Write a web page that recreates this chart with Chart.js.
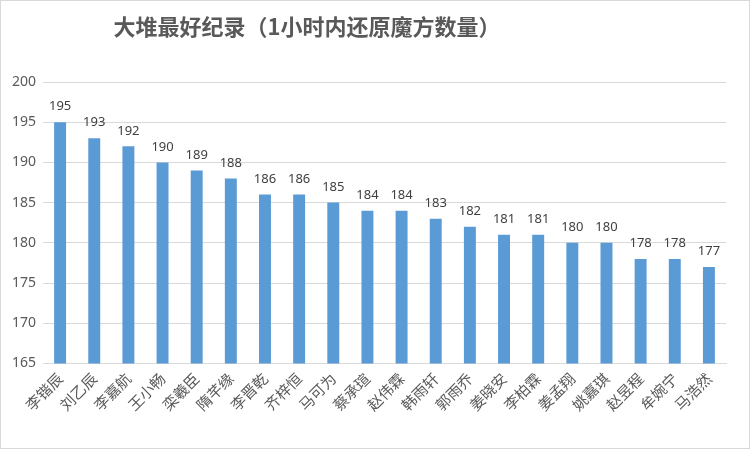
<!DOCTYPE html>
<html>
<head>
<meta charset="utf-8"/>
<script src="https://cdn.jsdelivr.net/npm/chart.js"></script>
<style>
  html, body { margin: 0; padding: 0; background: #fff; }
  #box { position: relative; width: 748px; height: 447px; border: 1px solid #d9d9d9; }
  #title { position: absolute; left: 0; width: 612px; top: 8px; text-align: center;
           font: bold 22px "Noto Sans CJK SC", sans-serif; color: #595959; }
</style>
</head>
<body>
<div id="box">
  <div id="title">大堆最好纪录（1小时内还原魔方数量）</div>
  <canvas id="myChart" width="748" height="447"></canvas>
</div>
<script>
// names and records
const names = ["李锴辰", "刘乙辰", "李嘉航", "王小畅", "栾羲臣", "隋芊缘", "李晋乾", "齐梓恒", "马可为", "蔡承瑄",
               "赵伟霖", "韩雨轩", "郭雨乔", "姜晓安", "李柏霖", "姜孟翔", "姚嘉琪", "赵昱程", "牟婉宁", "马浩然"];
const records = [195, 193, 192, 190, 189, 188, 186, 186, 185, 184, 184, 183, 182, 181, 181, 180, 180, 178, 178, 177];
const yMin = 165, yMax = 200, yStep = 5;

// values on top of bars
const valueLabels = {
  id: "valueLabels",
  afterDatasetsDraw(chart) {
    const ctx = chart.ctx;
    const meta = chart.getDatasetMeta(0);
    ctx.save();
    ctx.font = '13px "Noto Sans", sans-serif';
    ctx.fillStyle = "#404040";
    ctx.textAlign = "center";
    ctx.textBaseline = "bottom";
    meta.data.forEach((bar, i) => {
      ctx.fillText(records[i], bar.x, bar.y - 9);
    });
    ctx.restore();
  }
};

const ctx = document.getElementById('myChart').getContext('2d');
new Chart(ctx, {
  type: "bar",
  data: {
    labels: names,
    datasets: [{
      data: records,
      backgroundColor: "#5b9bd5",
      barPercentage: 0.7,
      categoryPercentage: 0.5
    }]
  },
  options: {
    responsive: false,
    animation: false,
    layout: { padding: { top: 81, right: 23, bottom: 28, left: 4 } },
    plugins: { legend: { display: false }, tooltip: { enabled: false } },
    scales: {
      x: {
        grid: { display: false, drawTicks: false },
        border: { color: "#d9d9d9" },
        ticks: {
          minRotation: 45, maxRotation: 45, padding: 6,
          color: "#595959",
          font: { size: 15, family: '"Noto Sans CJK SC", sans-serif' }
        }
      },
      y: {
        min: yMin, max: yMax,
        grid: { color: "#d9d9d9", drawTicks: false },
        border: { display: false },
        ticks: {
          stepSize: yStep, padding: 7,
          color: "#595959",
          font: { size: 14, family: '"Noto Sans", sans-serif' }
        }
      }
    }
  },
  plugins: [valueLabels]
});
</script>
</body>
</html>
